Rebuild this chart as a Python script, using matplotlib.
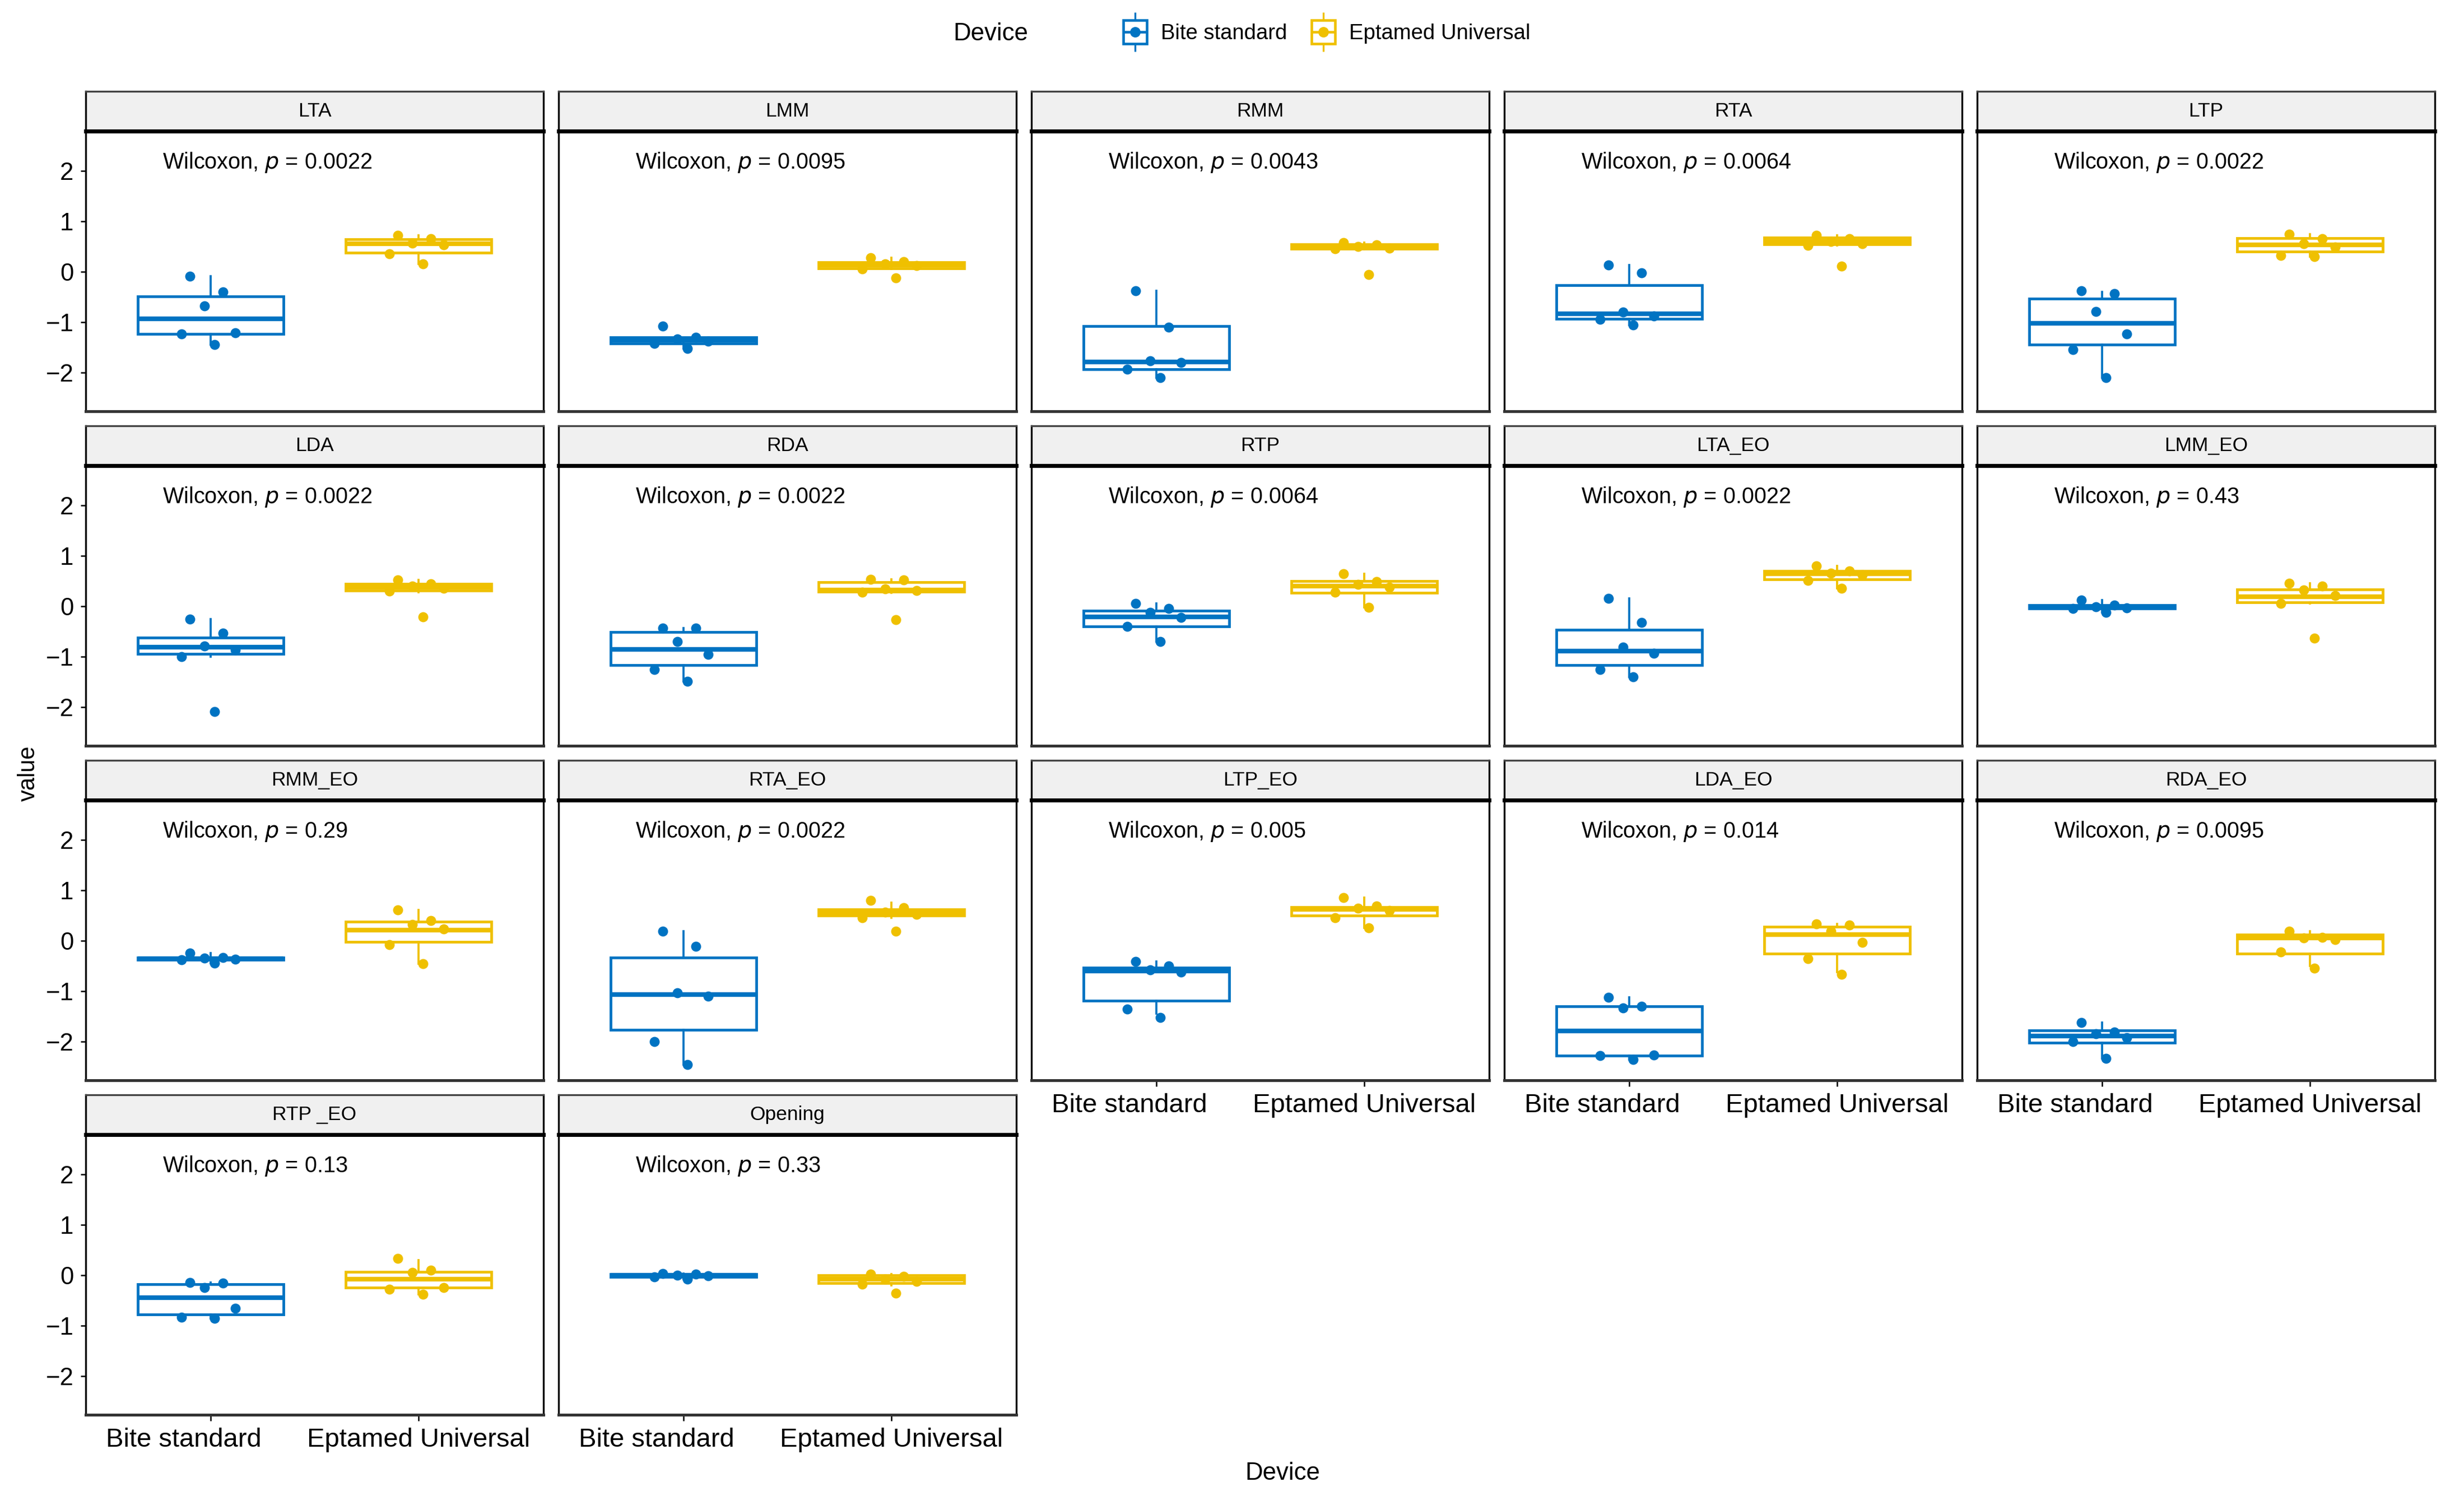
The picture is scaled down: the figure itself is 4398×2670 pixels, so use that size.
import numpy as np
import matplotlib.pyplot as plt
import matplotlib.transforms as mtransforms
from matplotlib.lines import Line2D
from matplotlib.legend_handler import HandlerTuple

plt.rcParams['font.family'] = ['Liberation Sans', 'DejaVu Sans']

devices = ["Bite standard", "Eptamed Universal"]
colors = ["#0073C2", "#EFC000"]

muscles = ["LTA", "LMM", "RMM", "RTA", "LTP",
           "LDA", "RDA", "RTP", "LTA_EO", "LMM_EO",
           "RMM_EO", "RTA_EO", "LTP_EO", "LDA_EO", "RDA_EO",
           "RTP _EO", "Opening"]
p_values = ["0.0022", "0.0095", "0.0043", "0.0064", "0.0022",
            "0.0022", "0.0022", "0.0064", "0.0022", "0.43",
            "0.29", "0.0022", "0.005", "0.014", "0.0095",
            "0.13", "0.33"]

# points, one list per muscle
bite_pts = [
    [-0.09, -0.40, -0.68, -1.21, -1.23, -1.45],
    [-1.08, -1.30, -1.33, -1.38, -1.42, -1.53],
    [-0.38, -1.10, -1.77, -1.80, -1.94, -2.10],
    [0.13, -0.02, -0.80, -0.88, -0.95, -1.06],
    [-0.38, -0.43, -0.79, -1.23, -1.55, -2.10],
    [-0.26, -0.53, -0.79, -0.87, -1.00, -2.09],
    [-0.43, -0.44, -0.70, -0.96, -1.26, -1.49],
    [0.05, -0.05, -0.12, -0.22, -0.40, -0.70],
    [0.15, -0.32, -0.81, -0.94, -1.26, -1.40],
    [0.12, 0.02, -0.01, -0.03, -0.05, -0.12],
    [-0.25, -0.33, -0.35, -0.37, -0.38, -0.45],
    [0.19, -0.11, -1.03, -1.10, -2.00, -2.46],
    [-0.41, -0.50, -0.58, -0.62, -1.36, -1.53],
    [-1.12, -1.30, -1.34, -2.27, -2.28, -2.36],
    [-1.62, -1.81, -1.85, -1.93, -2.00, -2.34],
    [-0.15, -0.16, -0.25, -0.66, -0.83, -0.86],
    [0.03, 0.02, 0.00, -0.01, -0.03, -0.08],
]
ept_pts = [
    [0.72, 0.66, 0.57, 0.53, 0.36, 0.15],
    [0.28, 0.20, 0.15, 0.12, 0.05, -0.12],
    [0.58, 0.53, 0.50, 0.47, 0.45, -0.06],
    [0.72, 0.66, 0.60, 0.55, 0.52, 0.11],
    [0.74, 0.66, 0.55, 0.49, 0.32, 0.30],
    [0.52, 0.44, 0.40, 0.35, 0.30, -0.21],
    [0.53, 0.52, 0.34, 0.31, 0.28, -0.27],
    [0.64, 0.49, 0.43, 0.38, 0.28, -0.02],
    [0.80, 0.70, 0.66, 0.62, 0.51, 0.35],
    [0.45, 0.40, 0.32, 0.21, 0.06, -0.64],
    [0.61, 0.40, 0.32, 0.23, -0.08, -0.46],
    [0.80, 0.65, 0.57, 0.52, 0.46, 0.19],
    [0.85, 0.69, 0.64, 0.60, 0.45, 0.26],
    [0.33, 0.31, 0.19, -0.03, -0.36, -0.67],
    [0.19, 0.07, 0.05, 0.02, -0.22, -0.55],
    [0.33, 0.10, 0.05, -0.25, -0.28, -0.38],
    [0.02, -0.02, -0.08, -0.12, -0.18, -0.36],
]

# box stats: whislo, q1, median, q3, whishi
bite_box = [
    [-1.45, -1.23, -0.94, -0.49, -0.09],
    [-1.53, -1.42, -1.36, -1.30, -1.30],
    [-2.10, -1.94, -1.79, -1.085, -0.38],
    [-1.06, -0.94, -0.84, -0.27, 0.13],
    [-2.10, -1.45, -1.02, -0.53, -0.40],
    [-1.00, -0.95, -0.81, -0.62, -0.26],
    [-1.49, -1.17, -0.86, -0.51, -0.43],
    [-0.70, -0.40, -0.21, -0.09, 0.06],
    [-1.40, -1.17, -0.89, -0.47, 0.15],
    [-0.12, -0.05, -0.02, 0.02, 0.12],
    [-0.45, -0.38, -0.36, -0.33, -0.25],
    [-2.46, -1.77, -1.07, -0.34, 0.19],
    [-1.45, -1.19, -0.60, -0.53, -0.41],
    [-2.36, -2.28, -1.79, -1.30, -1.12],
    [-2.34, -2.02, -1.89, -1.78, -1.62],
    [-0.86, -0.78, -0.45, -0.18, -0.15],
    [-0.08, -0.03, 0.00, 0.02, 0.03],
]
ept_box = [
    [0.15, 0.38, 0.55, 0.64, 0.72],
    [0.05, 0.07, 0.13, 0.19, 0.28],
    [0.44, 0.46, 0.49, 0.54, 0.58],
    [0.52, 0.54, 0.60, 0.68, 0.72],
    [0.30, 0.40, 0.53, 0.67, 0.74],
    [0.28, 0.31, 0.38, 0.44, 0.52],
    [0.27, 0.29, 0.32, 0.48, 0.53],
    [-0.02, 0.27, 0.40, 0.50, 0.64],
    [0.35, 0.53, 0.64, 0.70, 0.80],
    [0.06, 0.08, 0.19, 0.33, 0.45],
    [-0.46, -0.02, 0.21, 0.38, 0.61],
    [0.45, 0.50, 0.55, 0.62, 0.75],
    [0.26, 0.50, 0.62, 0.67, 0.85],
    [-0.62, -0.26, 0.12, 0.28, 0.33],
    [-0.50, -0.26, 0.05, 0.12, 0.19],
    [-0.38, -0.25, -0.08, 0.07, 0.30],
    [-0.20, -0.16, -0.08, 0.00, 0.02],
]

jitter = [-0.10, 0.06, -0.03, 0.12, -0.14, 0.02]

W, H = 4398, 2670
fig = plt.figure(figsize=(W/300, H/300), dpi=300)

def draw_box(ax, pos, st, col):
    stats = [dict(whislo=st[0], q1=st[1], med=st[2], q3=st[3], whishi=st[4])]
    ax.bxp(stats, positions=[pos], widths=0.7, showfliers=False, showcaps=False,
           patch_artist=True,
           boxprops=dict(facecolor="white", edgecolor=col, linewidth=1.15),
           medianprops=dict(color=col, linewidth=2.0),
           whiskerprops=dict(color=col, linewidth=0.9))

n = len(muscles)
shift = mtransforms.ScaledTranslation(-0.16, 0, fig.dpi_scale_trans)
for k, name in enumerate(muscles):
    r, c = divmod(k, 5)
    x0 = 153 + 844*c
    top = 163 + 597*r
    ax = fig.add_axes([x0/W, 1-(top+71+500)/H, 817/W, 500/H])
    st = fig.add_axes([x0/W, 1-(top+71)/H, 817/W, 71/H])

    draw_box(ax, 1, bite_box[k], colors[0])
    draw_box(ax, 2, ept_box[k], colors[1])
    for i, pts in enumerate([bite_pts[k], ept_pts[k]]):
        xs = [i + 1 + jitter[j] for j in range(len(pts))]
        ax.plot(xs, pts, 'o', color=colors[i], ms=4.3, mew=0, zorder=5)

    ax.text(0.77, 2.17, "Wilcoxon, $\\it{p}$ = " + p_values[k], fontsize=9.5,
            va="center", ha="left")

    ax.set_xlim(0.4, 2.6)
    ax.set_ylim(-2.77, 2.79)
    ax.spines['top'].set_visible(False)
    for s in ['left', 'right']:
        ax.spines[s].set_linewidth(0.8)
    ax.spines['bottom'].set_linewidth(1.2)
    ax.spines['bottom'].set_color('#333333')

    ax.set_xticks([1, 2])
    if k + 5 >= n:
        ax.set_xticklabels(devices, fontsize=11.3)
        ax.tick_params(axis='x', length=2.6, width=0.6, pad=3)
        lab = ax.get_xticklabels()[0]
        lab.set_transform(lab.get_transform() + shift)
    else:
        ax.tick_params(axis='x', length=0, labelbottom=False)
    ax.set_yticks([-2, -1, 0, 1, 2])
    if c == 0:
        ax.tick_params(axis='y', length=2.2, width=0.6, pad=3, labelsize=10.5)
    else:
        ax.tick_params(axis='y', length=0, labelleft=False)

    st.set_facecolor("#F0F0F0")
    st.set_xticks([])
    st.set_yticks([])
    st.set_xlim(0, 1)
    st.set_ylim(0, 1)
    st.spines['bottom'].set_linewidth(1.7)
    st.spines['top'].set_linewidth(0.8)
    st.spines['top'].set_color('#444444')
    for s in ['left', 'right']:
        st.spines[s].set_linewidth(0.8)
    st.text(0.5, 0.5, name, ha="center", va="center", fontsize=8.5)

fig.text(51/W, 0.483, "value", rotation=90, ha="center", va="center", fontsize=10)
fig.text(2289/W, 0.015, "Device", ha="center", va="center", fontsize=10.5)

fig.text(1701/W, 1-60/H, "Device", ha="left", va="center", fontsize=10.5)
handles = []
for col in colors:
    handles.append((Line2D([], [], marker='|', ms=17, mew=0.8, color=col, ls=''),
                    Line2D([], [], marker='s', ms=10, mfc='white', mec=col, mew=1.1, ls=''),
                    Line2D([], [], marker='_', ms=10, mew=1.1, color=col, ls=''),
                    Line2D([], [], marker='o', ms=4.5, mew=0, color=col, ls='')))
fig.legend(handles, devices, ncol=2, loc="center left", bbox_to_anchor=(1968/W, 1-60/H),
           frameon=False, fontsize=9.2, handler_map={tuple: HandlerTuple(ndivide=1)},
           handlelength=1.2, handletextpad=0.6, columnspacing=1.1)

fig.savefig("out.png", dpi=300)
